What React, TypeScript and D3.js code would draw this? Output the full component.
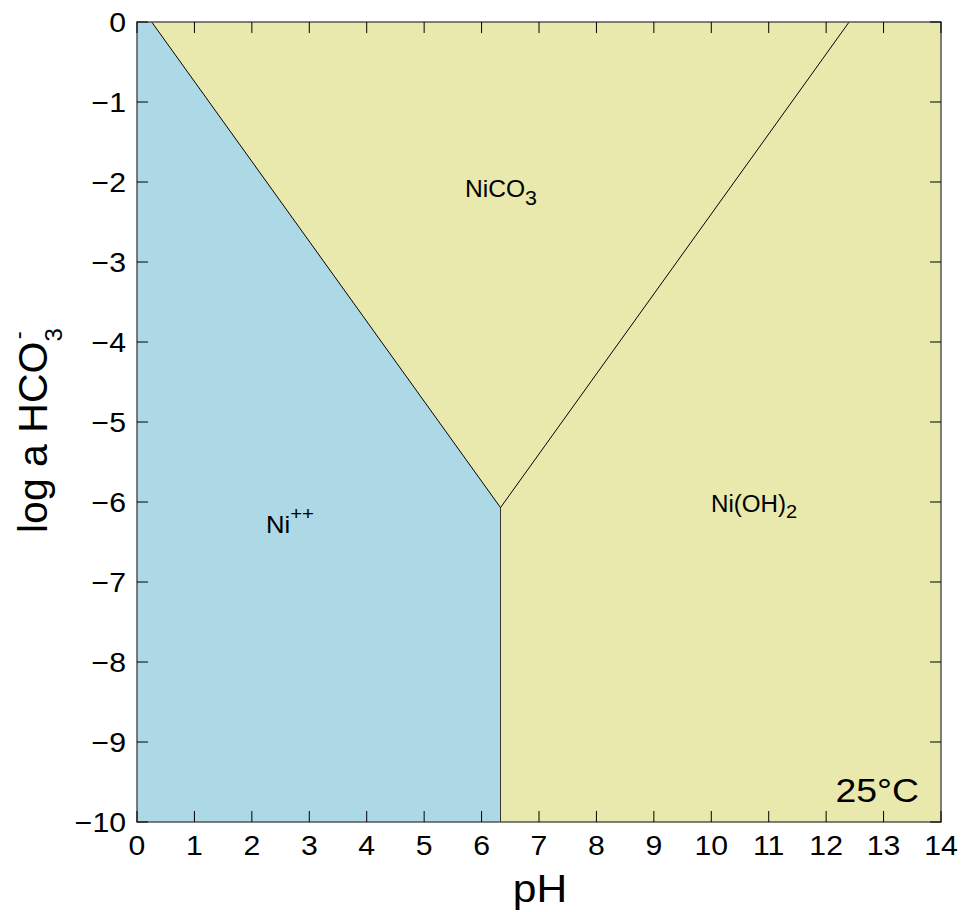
import React from "react";
import * as d3 from "d3";

const xTicks = [0, 1, 2, 3, 4, 5, 6, 7, 8, 9, 10, 11, 12, 13, 14];
const yTicks = [0, -1, -2, -3, -4, -5, -6, -7, -8, -9, -10];
const triplePoint = { pH: 6.33, logA: -6.07 };
const niLineTopPH = 0.256;
const hydroxideLineTopPH = 12.4;

const W = 964, H = 912;
const L = 137, R = 941, T = 22, B = 822;

function T2(props: { x: number; y: number; sx?: number; anchor?: string; size: number; children: React.ReactNode }) {
  const { x, y, sx = 1.1, anchor = "start", size, children } = props;
  return (
    <text transform={`translate(${x},${y}) scale(${sx},1)`} textAnchor={anchor} fontSize={size}>
      {children}
    </text>
  );
}

export default function App() {
  const x = d3.scaleLinear().domain([0, 14]).range([L, R]);
  const y = d3.scaleLinear().domain([-10, 0]).range([B, T]);
  const line = d3.line<[number, number]>().x(d => x(d[0])).y(d => y(d[1]));

  const niRegion: [number, number][] = [
    [0, 0], [niLineTopPH, 0], [triplePoint.pH, triplePoint.logA], [triplePoint.pH, -10], [0, -10],
  ];
  const carbRegion: [number, number][] = [
    [niLineTopPH, 0], [hydroxideLineTopPH, 0], [triplePoint.pH, triplePoint.logA],
  ];
  const hydRegion: [number, number][] = [
    [hydroxideLineTopPH, 0], [14, 0], [14, -10], [triplePoint.pH, -10], [triplePoint.pH, triplePoint.logA],
  ];
  const font = "Liberation Sans, Arial, sans-serif";
  const tk = 11;
  return (
    <svg width={W} height={H} style={{ position: "absolute", left: 0, top: 0 }} fontFamily={font}>
      <path d={line(niRegion) + "Z"} fill="#add8e6" />
      <path d={line(carbRegion) + "Z"} fill="#e9e9ad" />
      <path d={line(hydRegion) + "Z"} fill="#e9e9ad" />
      <path d={line([[niLineTopPH, 0], [triplePoint.pH, triplePoint.logA], [hydroxideLineTopPH, 0]])!} fill="none" stroke="#000" strokeWidth={1} />
      <path d={line([[triplePoint.pH, triplePoint.logA], [triplePoint.pH, -10]])!} fill="none" stroke="#333" strokeWidth={1} />
      <rect x={L} y={T} width={R - L} height={B - T} fill="none" stroke="#555" strokeWidth={1.5} />
      {xTicks.map(t => (
        <g key={"x" + t}>
          <line x1={x(t)} x2={x(t)} y1={B} y2={B - tk} stroke="#000" />
          <line x1={x(t)} x2={x(t)} y1={T} y2={T + tk} stroke="#000" />
          <T2 x={x(t)} y={855} anchor="middle" size={27} sx={1.12}>{t}</T2>
        </g>
      ))}
      {yTicks.map(t => (
        <g key={"y" + t}>
          <line x1={L} x2={L + tk} y1={y(t)} y2={y(t)} stroke="#000" />
          <line x1={R} x2={R - tk} y1={y(t)} y2={y(t)} stroke="#000" />
          <T2 x={126} y={y(t) + 10} anchor="end" size={27} sx={1.12}>{t === 0 ? "0" : "\u2212" + Math.abs(t)}</T2>
        </g>
      ))}
      <T2 x={(L + R) / 2 + 1} y={902} anchor="middle" size={38} sx={1.12}>pH</T2>
      <text transform={`translate(47, 533) rotate(-90)`} textAnchor="start" fontSize={41}>
        log a HCO<tspan fontSize={24} dy={15}>3</tspan><tspan fontSize={24} dx={-11} dy={-36}>-</tspan>
      </text>
      <T2 x={465} y={197} size={23} sx={1.07}>NiCO<tspan fontSize={20} dy={8}>3</tspan></T2>
      <T2 x={711} y={512} size={23} sx={1.05}>Ni(OH)<tspan fontSize={19} dy={6}>2</tspan></T2>
      <T2 x={266} y={533} size={24} sx={1.07}>Ni<tspan fontSize={19} dy={-13}>++</tspan></T2>
      <T2 x={919} y={802} anchor="end" size={34} sx={1.1}>25°C</T2>
    </svg>
  );
}
